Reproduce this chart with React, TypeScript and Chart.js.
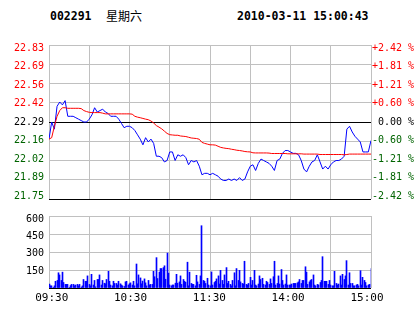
import React, { useEffect, useRef } from 'react';
import { Chart, registerables } from 'chart.js';

Chart.register(...registerables);

// ---------- header texts ----------
const STOCK_CODE = '002291';
const WEEKDAY = '星期六';
const TIMESTAMP = '2010-03-11 15:00:43';

// ---------- price axis ----------
const PREV_CLOSE = 22.29;
const PRICE_MIN = 21.75;
const PRICE_MAX = 22.83;
const PRICE_TICK_VALUES = [22.83, 22.695, 22.56, 22.425, 22.29, 22.155, 22.02, 21.885, 21.75];
const PRICE_TICK_LABELS = ['22.83', '22.69', '22.56', '22.42', '22.29', '22.16', '22.02', '21.89', '21.75'];
const PCT_MIN = -2.42;
const PCT_MAX = 2.42;
const PCT_TICK_VALUES = [2.42, 1.815, 1.21, 0.605, 0, -0.605, -1.21, -1.815, -2.42];
const PCT_TICK_LABELS = ['+2.42 %', '+1.81 %', '+1.21 %', '+0.60 %', ' 0.00 %', '-0.60 %', '-1.21 %', '-1.81 %', '-2.42 %'];

// ---------- time axis (minutes of trading day, 0..240) ----------
const TIME_MIN = 0;
const TIME_MAX = 240;
const TIME_GRID_STEP = 30;
const TIME_TICK_VALUES = [0, 60, 120, 180, 240];
const TIME_TICK_LABELS = ['09:30', '10:30', '11:30', '14:00', '15:00'];

// ---------- volume axis ----------
const VOL_MAX = 600;
const VOL_GRID_VALUES = [600, 450, 300, 150, 0];
const VOL_TICK_VALUES = [600, 450, 300, 150];
const VOL_TICK_LABELS = ['600', '450', '300', '150'];

// ---------- series: price every 2 minutes (0,2,...,240) ----------
const PRICE_STEP_MIN = 2;
const PRICES = [
  22.17, 22.29, 22.24, 22.40, 22.43, 22.41, 22.44, 22.33, 22.33, 22.33,
  22.32, 22.31, 22.30, 22.29, 22.29, 22.31, 22.34, 22.39, 22.36, 22.37,
  22.38, 22.36, 22.35, 22.33, 22.33, 22.33, 22.31, 22.28, 22.25, 22.26,
  22.26, 22.25, 22.23, 22.20, 22.17, 22.13, 22.18, 22.15, 22.17, 22.14,
  22.05, 22.05, 22.04, 22.01, 22.02, 22.08, 22.08, 22.02, 22.06, 22.05,
  22.06, 22.04, 21.99, 22.02, 22.01, 22.02, 21.98, 21.92, 21.93, 21.93,
  21.92, 21.93, 21.92, 21.91, 21.89, 21.88, 21.88, 21.89, 21.88, 21.89,
  21.88, 21.90, 21.88, 21.89, 21.94, 21.98, 21.99, 21.95, 22.00, 22.03,
  22.02, 22.01, 22.00, 21.98, 21.95, 22.02, 22.03, 22.07, 22.09, 22.09,
  22.08, 22.07, 22.07, 22.06, 22.02, 21.96, 21.94, 21.98, 22.01, 22.02,
  22.06, 22.01, 21.96, 21.98, 21.96, 21.99, 22.01, 22.02, 22.02, 22.03,
  22.05, 22.24, 22.26, 22.22, 22.19, 22.17, 22.15, 22.08, 22.08, 22.08,
  22.16,
];
const AVG_PRICES = [
  22.17, 22.18, 22.26, 22.33, 22.37, 22.39, 22.39, 22.386, 22.386, 22.386,
  22.386, 22.386, 22.384, 22.37, 22.363, 22.358, 22.356, 22.356, 22.356, 22.356,
  22.352, 22.347, 22.347, 22.347, 22.347, 22.347, 22.347, 22.347, 22.347, 22.347,
  22.347, 22.345, 22.33, 22.324, 22.32, 22.315, 22.31, 22.306, 22.297, 22.283,
  22.265, 22.254, 22.242, 22.226, 22.21, 22.201, 22.199, 22.197, 22.197, 22.192,
  22.19, 22.188, 22.183, 22.178, 22.176, 22.174, 22.169, 22.147, 22.14, 22.135,
  22.13, 22.13, 22.128, 22.12, 22.112, 22.108, 22.105, 22.103, 22.099, 22.096,
  22.092, 22.09, 22.087, 22.083, 22.081, 22.08, 22.074, 22.073, 22.073, 22.073,
  22.073, 22.073, 22.072, 22.069, 22.069, 22.069, 22.069, 22.069, 22.069, 22.067,
  22.067, 22.067, 22.067, 22.067, 22.067, 22.065, 22.065, 22.065, 22.065, 22.065,
  22.065, 22.062, 22.062, 22.062, 22.062, 22.062, 22.062, 22.062, 22.062, 22.062,
  22.06, 22.062, 22.065, 22.065, 22.065, 22.065, 22.065, 22.065, 22.065, 22.065,
  22.065,
];

// ---------- series: volume per minute (0..240) ----------
const VOLUMES = [
  33, 18, 18, 5, 18, 56, 63, 127, 109, 63,
  132, 46, 30, 30, 30, 5, 20, 30, 30, 18,
  25, 30, 18, 30, 8, 18, 71, 56, 56, 101,
  30, 18, 114, 25, 63, 10, 71, 71, 109, 25,
  63, 40, 35, 71, 139, 56, 25, 18, 56, 38,
  38, 25, 56, 35, 25, 18, 13, 51, 56, 25,
  35, 43, 25, 56, 18, 200, 35, 109, 84, 35,
  58, 76, 43, 18, 63, 25, 30, 30, 139, 94,
  253, 79, 132, 162, 162, 170, 185, 73, 291, 124,
  25, 18, 25, 25, 40, 114, 40, 51, 101, 30,
  71, 56, 48, 215, 18, 132, 38, 30, 30, 18,
  106, 51, 30, 101, 519, 63, 56, 38, 81, 25,
  18, 134, 25, 46, 56, 76, 101, 33, 147, 63,
  30, 109, 170, 38, 56, 30, 18, 63, 127, 18,
  162, 63, 147, 51, 38, 33, 223, 30, 25, 38,
  89, 25, 63, 147, 25, 18, 33, 101, 71, 81,
  30, 25, 56, 46, 30, 76, 38, 94, 223, 25,
  38, 101, 33, 154, 63, 25, 33, 109, 25, 25,
  25, 33, 38, 38, 38, 43, 51, 71, 38, 63,
  63, 177, 132, 30, 51, 63, 71, 109, 25, 18,
  30, 25, 46, 63, 261, 56, 56, 56, 30, 63,
  25, 18, 18, 139, 38, 25, 33, 101, 25, 114,
  71, 101, 228, 25, 127, 38, 38, 18, 18, 25,
  30, 18, 144, 25, 89, 63, 46, 18, 25, 30,
  162,
];

// ---------- styling ----------
const W = 414;
const PRICE_H = 210;
const VOL_TOP = 205;
const VOL_H = 109;
const LEFT_W = 49;
const RIGHT_W = 43;
const PRICE_PLOT_TOP = 45;
const PRICE_PLOT_H = 158;
const VOL_PLOT_TOP = 4;
const VOL_PLOT_H = 79;
const LABEL_INSET = 3;
const VOL_LABEL_INSET = 4;
const GRID = '#c0c0c0';
const RED = '#ff0000';
const GREEN = '#006400';
const BLUE = '#0000ff';
const MONO = "'DejaVu Sans Mono', monospace";

const padFor = (range: number, plotPx: number, inset: number) => (range * inset) / (plotPx - 2 * inset);

const crispBars = {
  id: 'crispBars',
  beforeDatasetDraw(chart: any, args: any) {
    args.meta.data.forEach((el: any) => {
      el.x = Math.floor(el.x) + 0.5;
    });
  },
};

export default function App() {
  const priceRef = useRef<HTMLCanvasElement>(null);
  const volRef = useRef<HTMLCanvasElement>(null);

  useEffect(() => {
    const pricePad = padFor(PRICE_MAX - PRICE_MIN, PRICE_PLOT_H, LABEL_INSET);
    const pctPad = padFor(PCT_MAX - PCT_MIN, PRICE_PLOT_H, LABEL_INSET);
    const priceColor = (v: number) => (Math.abs(v - PREV_CLOSE) < 1e-6 ? '#000000' : v > PREV_CLOSE ? RED : GREEN);
    const pctColor = (v: number) => (Math.abs(v) < 1e-6 ? '#000000' : v > 0 ? RED : GREEN);

    const priceChart = new Chart(priceRef.current as HTMLCanvasElement, {
      type: 'line',
      data: {
        datasets: [
          {
            data: AVG_PRICES.map((p, i) => ({ x: i * PRICE_STEP_MIN, y: p })),
            borderColor: RED,
            borderWidth: 1,
            pointRadius: 0,
            tension: 0,
            xAxisID: 'x',
            yAxisID: 'y',
            order: 0,
          },
          {
            data: PRICES.map((p, i) => ({ x: i * PRICE_STEP_MIN, y: p })),
            borderColor: BLUE,
            borderWidth: 1,
            pointRadius: 0,
            tension: 0,
            xAxisID: 'x',
            yAxisID: 'y',
            order: 1,
          },
        ],
      },
      options: {
        animation: false,
        responsive: false,
        devicePixelRatio: 1,
        events: [],
        layout: { autoPadding: false, padding: { top: PRICE_PLOT_TOP, bottom: PRICE_H - PRICE_PLOT_TOP - PRICE_PLOT_H, left: 0, right: 0 } },
        plugins: { legend: { display: false }, tooltip: { enabled: false } },
        scales: {
          x: {
            type: 'linear',
            min: TIME_MIN,
            max: TIME_MAX,
            ticks: { display: false, stepSize: TIME_GRID_STEP },
            grid: { color: GRID, lineWidth: 1, drawTicks: false },
            border: { display: false },
            afterFit: (s: any) => { s.height = 0; },
          },
          y: {
            type: 'linear',
            position: 'left',
            min: PRICE_MIN,
            max: PRICE_MAX,
            afterBuildTicks: (s: any) => { s.ticks = PRICE_TICK_VALUES.map((v) => ({ value: v })); },
            ticks: { display: false },
            grid: {
              drawTicks: false,
              lineWidth: 1,
              color: (ctx: any) => {
                const v = ctx.tick ? ctx.tick.value : 0;
                return Math.abs(v - PREV_CLOSE) < 1e-6 || Math.abs(v - PRICE_MIN) < 1e-6 ? '#000000' : GRID;
              },
            },
            border: { display: false },
            afterFit: (s: any) => { s.width = 0; },
          },
          yl: {
            type: 'linear',
            position: 'left',
            min: PRICE_MIN - pricePad,
            max: PRICE_MAX + pricePad,
            afterBuildTicks: (s: any) => { s.ticks = PRICE_TICK_VALUES.map((v) => ({ value: v })); },
            ticks: {
              autoSkip: false,
              padding: 5,
              font: { family: MONO, size: 10 },
              color: (ctx: any) => priceColor(ctx.tick.value),
              callback: (_v: any, i: number) => PRICE_TICK_LABELS[i],
            },
            grid: { display: false, drawTicks: false },
            border: { display: false },
            afterFit: (s: any) => { s.width = LEFT_W; },
          },
          yr: {
            type: 'linear',
            position: 'right',
            min: PCT_MIN - pctPad,
            max: PCT_MAX + pctPad,
            afterBuildTicks: (s: any) => { s.ticks = PCT_TICK_VALUES.map((v) => ({ value: v })); },
            ticks: {
              autoSkip: false,
              padding: 1,
              font: { family: MONO, size: 10 },
              color: (ctx: any) => pctColor(ctx.tick.value),
              callback: (_v: any, i: number) => PCT_TICK_LABELS[i],
            },
            grid: { display: false, drawTicks: false },
            border: { display: false },
            afterFit: (s: any) => { s.width = RIGHT_W; },
          },
        },
      },
    } as any);

    const volPad = (VOL_MAX * VOL_LABEL_INSET) / (VOL_PLOT_H - VOL_LABEL_INSET);
    const volChart = new Chart(volRef.current as HTMLCanvasElement, {
      type: 'bar',
      data: {
        datasets: [
          {
            data: VOLUMES.map((v, i) => ({ x: i, y: v })),
            backgroundColor: BLUE,
            borderWidth: 0,
            barThickness: 1,
            xAxisID: 'x',
            yAxisID: 'y',
          },
        ],
      },
      plugins: [crispBars],
      options: {
        animation: false,
        responsive: false,
        devicePixelRatio: 1,
        events: [],
        layout: { autoPadding: false, padding: { top: VOL_PLOT_TOP, bottom: 0, left: 0, right: RIGHT_W } },
        plugins: { legend: { display: false }, tooltip: { enabled: false } },
        scales: {
          x: {
            type: 'linear',
            min: TIME_MIN,
            max: TIME_MAX,
            offset: false,
            ticks: { display: false, stepSize: TIME_GRID_STEP },
            grid: { color: GRID, lineWidth: 1, drawTicks: false, offset: false },
            border: { display: false },
            afterFit: (s: any) => { s.height = 0; },
          },
          xl: {
            type: 'linear',
            position: 'bottom',
            min: -2.06,
            max: 243.04,
            offset: false,
            afterBuildTicks: (s: any) => { s.ticks = TIME_TICK_VALUES.map((v) => ({ value: v })); },
            ticks: {
              autoSkip: false,
              maxRotation: 0,
              padding: 4,
              color: '#000000',
              font: { family: MONO, size: 11 },
              callback: (_v: any, i: number) => TIME_TICK_LABELS[i],
            },
            grid: { display: false, drawTicks: false, offset: false },
            border: { display: false },
            afterFit: (s: any) => { s.height = VOL_H - VOL_PLOT_TOP - VOL_PLOT_H; },
          },
          y: {
            type: 'linear',
            position: 'left',
            min: 0,
            max: VOL_MAX,
            afterBuildTicks: (s: any) => { s.ticks = VOL_GRID_VALUES.map((v) => ({ value: v })); },
            ticks: { display: false },
            grid: {
              drawTicks: false,
              lineWidth: 1,
              color: (ctx: any) => (ctx.tick && ctx.tick.value === 0 ? '#000000' : GRID),
            },
            border: { display: false },
            afterFit: (s: any) => { s.width = 0; },
          },
          yl: {
            type: 'linear',
            position: 'left',
            min: 0,
            max: VOL_MAX + volPad,
            afterBuildTicks: (s: any) => { s.ticks = VOL_TICK_VALUES.map((v) => ({ value: v })); },
            ticks: {
              autoSkip: false,
              padding: 5,
              color: '#000000',
              font: { family: MONO, size: 10 },
              callback: (_v: any, i: number) => VOL_TICK_LABELS[i],
            },
            grid: { display: false, drawTicks: false },
            border: { display: false },
            afterFit: (s: any) => { s.width = LEFT_W; },
          },
        },
      },
    } as any);

    return () => {
      priceChart.destroy();
      volChart.destroy();
    };
  }, []);

  const headStyle: React.CSSProperties = {
    position: 'absolute',
    top: 10,
    font: `bold 11.5px ${MONO}`,
    lineHeight: '13px',
    color: '#000',
    whiteSpace: 'pre',
  };

  return (
    <div style={{ position: 'absolute', left: 0, top: 0, width: W, height: 314, background: '#ffffff', overflow: 'hidden' }}>
      <div style={{ ...headStyle, left: 50 }}>{STOCK_CODE}</div>
      <div style={{ ...headStyle, left: 106, top: 9, font: "12px 'Noto Sans CJK SC', sans-serif" }}>{WEEKDAY}</div>
      <div style={{ ...headStyle, left: 237 }}>{TIMESTAMP}</div>
      <canvas ref={priceRef} width={W} height={PRICE_H} style={{ position: 'absolute', left: 0, top: 0, width: W, height: PRICE_H }} />
      <canvas ref={volRef} width={W} height={VOL_H} style={{ position: 'absolute', left: 0, top: VOL_TOP, width: W, height: VOL_H }} />
    </div>
  );
}
